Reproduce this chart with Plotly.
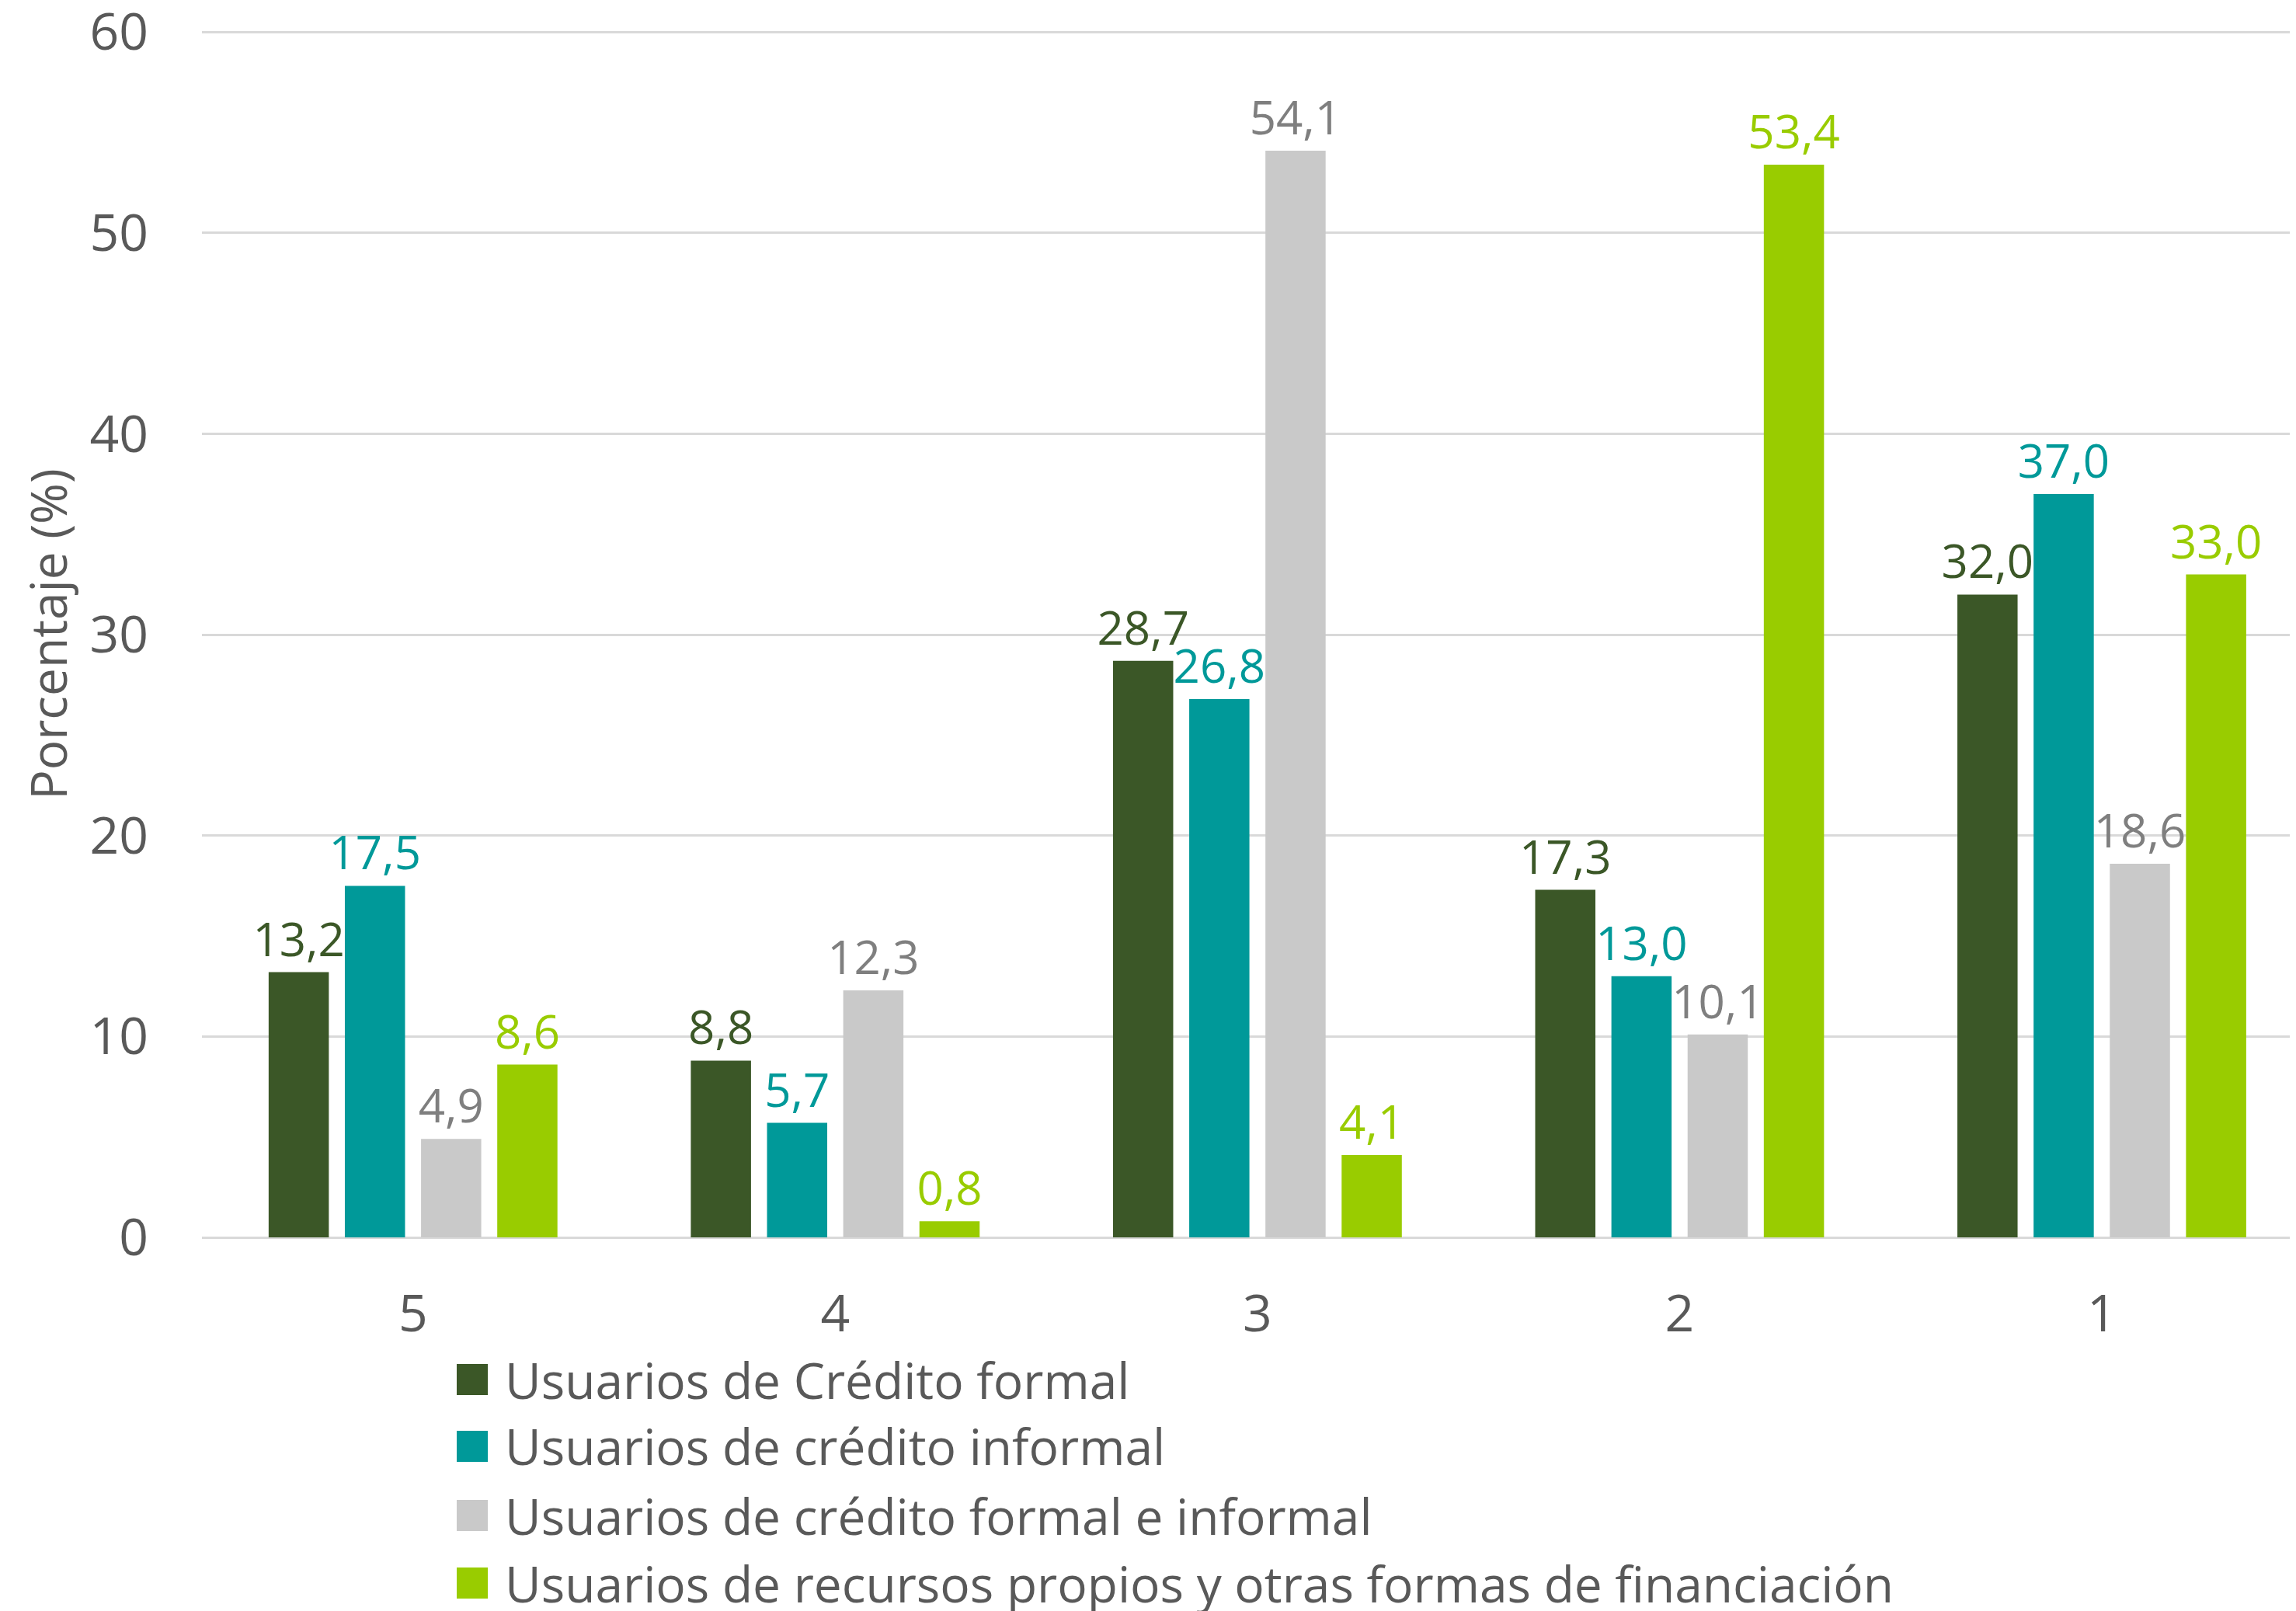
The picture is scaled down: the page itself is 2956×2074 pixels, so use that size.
import plotly.graph_objects as go

categories = ["5", "4", "3", "2", "1"]
series_names = [
    "Usuarios de Crédito formal",
    "Usuarios de crédito informal",
    "Usuarios de crédito formal e informal",
    "Usuarios de recursos propios y otras formas de financiación",
]
credito_formal = [13.2, 8.8, 28.7, 17.3, 32.0]
credito_informal = [17.5, 5.7, 26.8, 13.0, 37.0]
formal_e_informal = [4.9, 12.3, 54.1, 10.1, 18.6]
recursos_propios = [8.6, 0.8, 4.1, 53.4, 33.0]
y_ticks = [0, 10, 20, 30, 40, 50, 60]

series_values = [credito_formal, credito_informal, formal_e_informal, recursos_propios]
bar_colors = ["#3B5727", "#009999", "#C9C9C9", "#99CC00"]
label_colors = ["#3B5727", "#009999", "#7F7F7F", "#99CC00"]

FONT = "Open Sans"
TEXT = "#595959"
PAGE_OFF = 8  # default body margin of the html page
W, H = 2956 - PAGE_OFF, 2074 - PAGE_OFF
ML, MR, MT, MB = 260 - PAGE_OFF, 0, 32, 481
plot_w = W - ML - MR
plot_h = H - MT - MB

fig = go.Figure()
for name, vals, c, lc in zip(series_names, series_values, bar_colors, label_colors):
    fig.add_trace(go.Bar(
        x=categories, y=vals, name=name,
        marker=dict(color=c, line=dict(width=0)),
        texttemplate="%{y:.1f}", textposition="outside",
        textfont=dict(family=FONT, size=60, color=lc),
        cliponaxis=False, constraintext="none",
        showlegend=False,
    ))

# Manual legend (large square swatches), page-pixel positions
legend_centers_px = [1776, 1862, 1951, 2038]
sq_cx_px = 608
text_x_px = 648
zero_y_page = H - MB + PAGE_OFF
shapes = []
annotations = []
for name, c, cy in zip(series_names, bar_colors, legend_centers_px):
    py = (zero_y_page - cy) / plot_h
    shapes.append(dict(
        type="rect", xref="paper", yref="paper",
        xsizemode="pixel", ysizemode="pixel",
        xanchor=(sq_cx_px - PAGE_OFF - ML) / plot_w, yanchor=py,
        x0=-20, x1=20, y0=-20, y1=20,
        fillcolor=c, line=dict(width=0),
    ))
    annotations.append(dict(
        text=name, xref="paper", yref="paper",
        x=(text_x_px - PAGE_OFF - ML) / plot_w, y=py,
        xanchor="left", yanchor="middle", showarrow=False,
        font=dict(family=FONT, size=64, color=TEXT),
    ))

fig.update_layout(
    width=W, height=H,
    margin=dict(l=ML, r=MR, t=MT, b=MB, autoexpand=False),
    paper_bgcolor="white", plot_bgcolor="white",
    font=dict(family=FONT, color=TEXT),
    separators=",.",
    barmode="group", bargap=0.278, bargroupgap=0.21,
    shapes=shapes, annotations=annotations,
    showlegend=False,
)
fig.update_xaxes(
    type="category", range=[-0.5, 4.46], automargin=False,
    showgrid=False, showline=False, ticks="",
    tickfont=dict(family=FONT, size=66, color=TEXT),
    ticklabelstandoff=54,
)
fig.update_yaxes(
    range=[0, 60.05], tickvals=y_ticks, automargin=False,
    showgrid=True, gridcolor="#D9D9D9", gridwidth=3,
    zeroline=True, zerolinecolor="#D9D9D9", zerolinewidth=3,
    showline=False, ticks="",
    tickfont=dict(family=FONT, size=66, color=TEXT),
    ticklabelstandoff=68, ticklabeloverflow="allow",
    title=dict(text="Porcentaje (%)", font=dict(family=FONT, size=64, color=TEXT), standoff=8),
)

fig.write_html("out.html")
